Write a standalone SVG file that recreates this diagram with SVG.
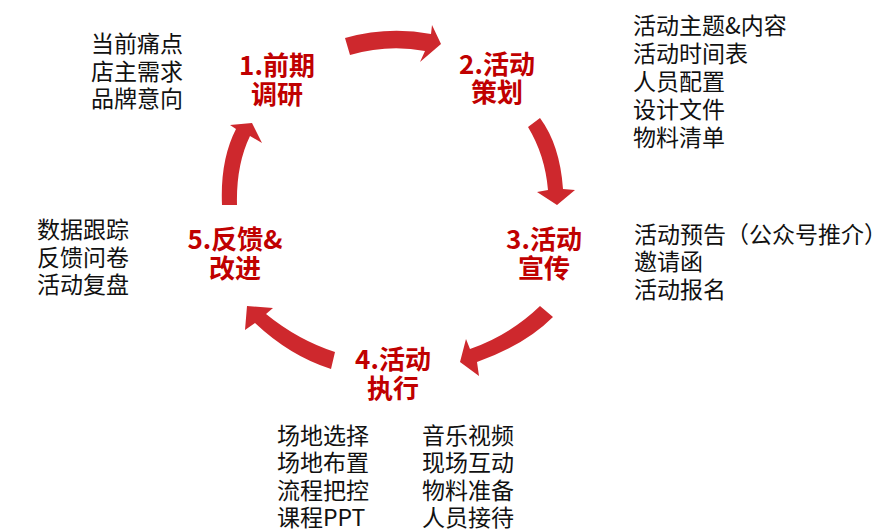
<svg xmlns="http://www.w3.org/2000/svg" width="886" height="529" viewBox="0 0 886 529">
<style>
.lbl{font-family:"Noto Sans CJK SC","Microsoft YaHei",sans-serif;font-weight:bold;font-size:26px;fill:#C00000;text-anchor:middle}
.note{font-family:"Noto Sans CJK SC","Microsoft YaHei",sans-serif;font-size:23px;fill:#111}
.arr{fill:#CE282D}
</style>
<rect width="886" height="529" fill="#fff"/>
<g id="connectors">
<path class="arr" d="M345,38 Q388,26 431,34 L432,25 L441,44 L420,62 L425,51 Q388,44 350,55 Z"/>
<path class="arr" d="M540,118 Q560,145 563,189 L575,190 L557,205 L537,192 L548,190 Q545,155 528,127 Z"/>
<path class="arr" d="M540,306 Q510,335 470,349 L466,339 L460,362 L479,376 L477,362 Q525,345 553,317 Z"/>
<path class="arr" d="M335,352 Q298,340 266,314 L273,308 L247,306 L245,330 L255,323 Q290,356 331,369 Z"/>
<path class="arr" d="M222,205 Q220,160 236,129 L230,125 L252,123 L262,143 L250,136 Q236,165 237,205 Z"/>
</g>
<g id="step1">
<text class="lbl" x="277" y="75">1.前期</text>
<text class="lbl" x="277" y="104">调研</text>
<text class="note" x="91" y="52">当前痛点</text>
<text class="note" x="91" y="80">店主需求</text>
<text class="note" x="91" y="107">品牌意向</text>
</g>
<g id="step2">
<text class="lbl" x="497" y="74">2.活动</text>
<text class="lbl" x="497" y="102">策划</text>
<text class="note" x="633" y="34">活动主题&amp;内容</text>
<text class="note" x="633" y="62">活动时间表</text>
<text class="note" x="633" y="90">人员配置</text>
<text class="note" x="633" y="118">设计文件</text>
<text class="note" x="633" y="146">物料清单</text>
</g>
<g id="step3">
<text class="lbl" x="544" y="249">3.活动</text>
<text class="lbl" x="544" y="278">宣传</text>
<text class="note" x="634" y="243">活动预告（公众号推介）</text>
<text class="note" x="634" y="270">邀请函</text>
<text class="note" x="634" y="298">活动报名</text>
</g>
<g id="step4">
<text class="lbl" x="393" y="369">4.活动</text>
<text class="lbl" x="393" y="398">执行</text>
<text class="note" x="277" y="444">场地选择</text>
<text class="note" x="277" y="471">场地布置</text>
<text class="note" x="277" y="499">流程把控</text>
<text class="note" x="277" y="526">课程PPT</text>
<text class="note" x="422" y="444">音乐视频</text>
<text class="note" x="422" y="471">现场互动</text>
<text class="note" x="422" y="499">物料准备</text>
<text class="note" x="422" y="526">人员接待</text>
</g>
<g id="step5">
<text class="lbl" x="235" y="249">5.反馈&amp;</text>
<text class="lbl" x="235" y="278">改进</text>
<text class="note" x="37" y="238">数据跟踪</text>
<text class="note" x="37" y="266">反馈问卷</text>
<text class="note" x="37" y="293">活动复盘</text>
</g>
</svg>
